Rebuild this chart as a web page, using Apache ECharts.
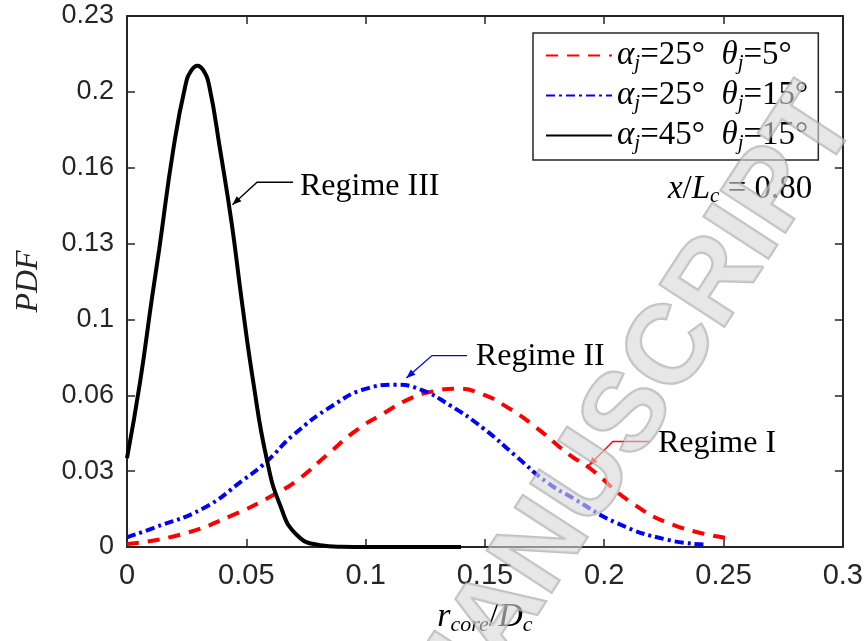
<!DOCTYPE html>
<html>
<head>
<meta charset="utf-8">
<script src="https://cdn.jsdelivr.net/npm/echarts@6/dist/echarts.min.js"></script>
<style>
html,body{margin:0;padding:0;background:#fff;}
#chart{width:866px;height:641px;}
</style>
</head>
<body>
<div id="chart"></div>
<script>
// ---- data ----
const seriesNames = ['a25t5', 'a25t15', 'a45t15'];
const legendLabels = [
  '{g|α}{s|j}{n|=25°  }{g|θ}{s|j}{n|=5°}',
  '{g|α}{s|j}{n|=25°  }{g|θ}{s|j}{n|=15°}',
  '{g|α}{s|j}{n|=45°  }{g|θ}{s|j}{n|=15°}'
];
const redX = [0, 0.0222, 0.0445, 0.0627, 0.0725, 0.0837, 0.0962, 0.1074, 0.1186, 0.1283, 0.1381, 0.1493, 0.1591, 0.1702, 0.1856, 0.194, 0.2108, 0.2289, 0.2513];
const redY = [0.0013, 0.0053, 0.0139, 0.0233, 0.0298, 0.0398, 0.0506, 0.0578, 0.0643, 0.0674, 0.0686, 0.066, 0.0607, 0.0528, 0.0398, 0.0341, 0.0197, 0.0096, 0.0039];
const blueX = [0, 0.011, 0.032, 0.0487, 0.0585, 0.0697, 0.0864, 0.1004, 0.1123, 0.1228, 0.1353, 0.1493, 0.1633, 0.1759, 0.187, 0.2052, 0.2261, 0.2429];
const blueY = [0.0042, 0.0082, 0.0168, 0.029, 0.037, 0.0485, 0.0614, 0.0686, 0.0703, 0.0683, 0.0614, 0.0514, 0.0391, 0.0281, 0.0211, 0.0104, 0.0032, 0.001];
const blackX = [0, 0.0055, 0.0104, 0.0135, 0.0194, 0.0245, 0.027, 0.0295, 0.032, 0.0345, 0.039, 0.0439, 0.048, 0.0529, 0.0585, 0.0641, 0.0711, 0.0809, 0.09, 0.1, 0.12, 0.14];
const blackY = [0.0385, 0.0716, 0.1074, 0.129, 0.1722, 0.2, 0.2065, 0.2085, 0.2065, 0.1995, 0.1722, 0.140, 0.1074, 0.0716, 0.0384, 0.0183, 0.0053, 0.0008, 0.0001, 0, 0, 0];
const yTickLabels = ['0', '0.03', '0.06', '0.1', '0.13', '0.16', '0.2', '0.23'];
const xMin = 0, xMax = 0.3, xStep = 0.05;
const yMin = 0, yMax = 0.23, yStep = 0.23 / 7;
// annotations (data coordinates): text anchor and arrow path
const annotations = [
  {text: 'Regime III', at: [0.0725, 0.1562], path: [[0.0696, 0.158], [0.0545, 0.158], [0.0442, 0.1482]], color: '#000000'},
  {text: 'Regime II', at: [0.1462, 0.0824], path: [[0.1425, 0.0829], [0.1278, 0.0829], [0.1171, 0.0732]], color: '#0000ff'},
  {text: 'Regime I', at: [0.2225, 0.0449], path: [[0.2191, 0.0457], [0.2036, 0.0457], [0.1934, 0.0352]], color: '#ff0000'}
];
const stationText = {at: [0.2267, 0.1549], label: '{i|x}{n|/}{i|L}{s|c}{n| = 0.80}'};

// ---- chart ----
const zip = (xs, ys) => xs.map((x, i) => [x, ys[i]]);
const axisColor = '#262626';
const serif = '"Liberation Serif", "Times New Roman", serif';
const sans = '"Liberation Sans", Arial, Helvetica, sans-serif';
function mathRich(size, sub, shift) {
  return {
    i: {fontFamily: serif, fontStyle: 'italic', fontSize: size, color: '#000'},
    g: {fontFamily: serif, fontStyle: 'italic', fontSize: size, color: '#000'},
    n: {fontFamily: serif, fontSize: size, color: '#000'},
    s: {fontFamily: serif, fontStyle: 'italic', fontSize: sub, color: '#000', padding: [shift, 0, 0, 0]}
  };
}
const legendRich = mathRich(33, 21, 16);

const chart = echarts.init(document.getElementById('chart'), null, {renderer: 'canvas'});

function xAxisCfg(pos, show) {
  return {
    type: 'value', position: pos, min: xMin, max: xMax, interval: xStep,
    axisLine: {show: true, onZero: false, lineStyle: {color: axisColor, width: 2}},
    axisTick: {show: true, inside: true, length: 8, lineStyle: {color: axisColor, width: 1.5}},
    axisLabel: {show: show, fontFamily: sans, fontSize: 29, color: axisColor, margin: 14,
      formatter: v => String(+v.toFixed(2))},
    splitLine: {show: false}
  };
}
function yAxisCfg(pos, show) {
  return {
    type: 'value', position: pos, min: yMin, max: yMax, interval: yStep,
    axisLine: {show: true, onZero: false, lineStyle: {color: axisColor, width: 2}},
    axisTick: {show: true, inside: true, length: 8, lineStyle: {color: axisColor, width: 1.5}},
    axisLabel: {show: show, fontFamily: sans, fontSize: 27, color: axisColor, margin: 13,
      formatter: v => yTickLabels[Math.round(v / yStep)] || ''},
    splitLine: {show: false}
  };
}

const xa0 = xAxisCfg('bottom', true);
xa0.name = '{i|r}{s|core}{n|/}{i|D}{s|c}';
xa0.nameLocation = 'middle';
xa0.nameGap = 52;
xa0.nameTextStyle = {rich: mathRich(34, 22, 15)};
const ya0 = yAxisCfg('left', true);
ya0.name = '{i|PDF}';
ya0.nameLocation = 'middle';
ya0.nameGap = 82;
ya0.nameTextStyle = {rich: {i: {fontFamily: serif, fontStyle: 'italic', fontSize: 32, color: '#262626'}}};

const option = {
  animation: false,
  backgroundColor: '#ffffff',
  grid: {left: 127, right: 23, top: 16, bottom: 92, containLabel: false},
  xAxis: [xa0, xAxisCfg('top', false)],
  yAxis: [ya0, yAxisCfg('right', false)],
  legend: {
    orient: 'vertical', left: 533, top: 33,
    padding: [6, 10, 6, 12], itemGap: 5,
    itemWidth: 66, itemHeight: 20,
    backgroundColor: '#ffffff', borderColor: axisColor, borderWidth: 1.5,
    data: seriesNames,
    itemStyle: {opacity: 0},
    formatter: name => legendLabels[seriesNames.indexOf(name)],
    textStyle: {rich: legendRich, padding: [0, 0, 0, 0]}
  },
  series: [
    {name: seriesNames[0], type: 'line', data: zip(redX, redY), smooth: 0.5,
      symbol: 'none', z: 3, lineStyle: {color: '#ff0000', width: 4, type: [12, 9]}, itemStyle: {color: '#ff0000'}},
    {name: seriesNames[1], type: 'line', data: zip(blueX, blueY), smooth: 0.5,
      symbol: 'none', z: 3, lineStyle: {color: '#0000ff', width: 4, type: [9, 4, 3, 4]}, itemStyle: {color: '#0000ff'}},
    {name: seriesNames[2], type: 'line', data: zip(blackX, blackY), smooth: 0.5,
      symbol: 'none', z: 3, lineStyle: {color: '#000000', width: 4}, itemStyle: {color: '#000000'}}
  ]
};
chart.setOption(option);

// annotations placed through the chart's own coordinate conversion
const graphics = [];
annotations.forEach(a => {
  const pts = a.path.map(p => chart.convertToPixel({gridIndex: 0}, p));
  graphics.push({type: 'polyline', shape: {points: pts}, style: {stroke: a.color, lineWidth: 1.3, fill: null}, z: 10});
  const p1 = pts[pts.length - 2], p2 = pts[pts.length - 1];
  const dx = p2[0] - p1[0], dy = p2[1] - p1[1], L = Math.hypot(dx, dy);
  const ux = dx / L, uy = dy / L, hl = 9, hw = 3.5;
  const bx = p2[0] - ux * hl, by = p2[1] - uy * hl;
  graphics.push({type: 'polygon', shape: {points: [p2, [bx - uy * hw, by + ux * hw], [bx + uy * hw, by - ux * hw]]},
    style: {fill: a.color}, z: 10});
  const t = chart.convertToPixel({gridIndex: 0}, a.at);
  graphics.push({type: 'text', x: t[0], y: t[1], z: 10,
    style: {text: a.text, font: '32px ' + serif, fill: '#000', verticalAlign: 'middle'}});
});
const st = chart.convertToPixel({gridIndex: 0}, stationText.at);
graphics.push({type: 'text', x: st[0], y: st[1], z: 10,
  style: {text: stationText.label, rich: mathRich(33, 21, 15), verticalAlign: 'middle'}});
// watermark
graphics.push({type: 'text', x: 630, y: 415, rotation: 57 * Math.PI / 180, z: 20, silent: true,
  style: {text: 'MANUSCRIPT', font: 'bold 112px ' + sans, fill: 'rgba(215,215,215,0.6)', stroke: 'rgba(150,150,150,0.6)', lineWidth: 2.5,
    align: 'center', verticalAlign: 'middle'}});
chart.setOption({graphic: graphics});
</script>
</body>
</html>
